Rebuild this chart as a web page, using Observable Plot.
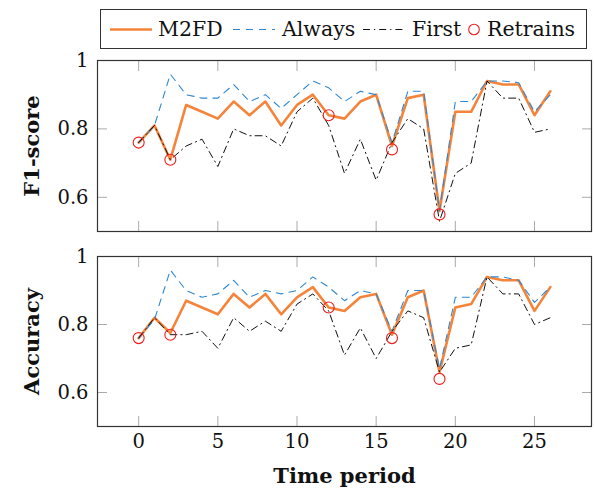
<!DOCTYPE html>
<html>
<head>
<meta charset="utf-8">
<script src="https://cdn.jsdelivr.net/npm/d3@7"></script>
<script src="https://cdn.jsdelivr.net/npm/@observablehq/plot@0.6"></script>
<style>
  html, body { margin: 0; padding: 0; background: white; }
  #wrap { position: relative; width: 594px; height: 491px; overflow: hidden; background: white; }
  #wrap svg.plotsvg { position: absolute; left: 0; }
  #legend { position: absolute; left: 100px; top: 9px; width: 487px; height: 40px; border: 1.2px solid #333; box-sizing: border-box; background: white;
    font-family: "DejaVu Serif"; font-size: 20.5px; color: #111; }
  #legend .item { position: absolute; top: 0; height: 38px; line-height: 38px; white-space: nowrap; }
  #legend svg { position: absolute; }
</style>
</head>
<body>
<div id="wrap"></div>
<script>
// ---- data ----
const periods = [0,1,2,3,4,5,6,7,8,9,10,11,12,13,14,15,16,17,18,19,20,21,22,23,24,25,26];

const f1M2FD   = [0.76,0.81,0.71,0.87,0.85,0.83,0.88,0.84,0.88,0.81,0.87,0.90,0.84,0.83,0.88,0.90,0.75,0.89,0.90,0.56,0.85,0.85,0.94,0.93,0.93,0.84,0.91];
const f1Always = [0.76,0.81,0.96,0.90,0.89,0.89,0.93,0.88,0.90,0.86,0.90,0.94,0.92,0.88,0.91,0.90,0.76,0.91,0.91,0.56,0.88,0.88,0.94,0.94,0.935,0.85,0.90];
const f1First  = [0.76,0.81,0.71,0.75,0.77,0.69,0.80,0.78,0.78,0.75,0.85,0.89,0.81,0.67,0.77,0.65,0.76,0.83,0.80,0.53,0.67,0.70,0.94,0.89,0.89,0.79,0.80];

const accM2FD   = [0.76,0.82,0.775,0.87,0.85,0.83,0.89,0.85,0.89,0.83,0.88,0.91,0.85,0.84,0.88,0.89,0.77,0.88,0.90,0.66,0.85,0.86,0.94,0.93,0.93,0.84,0.91];
const accAlways = [0.76,0.815,0.96,0.90,0.88,0.89,0.93,0.88,0.90,0.89,0.90,0.94,0.91,0.87,0.90,0.89,0.78,0.90,0.90,0.67,0.88,0.88,0.94,0.94,0.93,0.865,0.91];
const accFirst  = [0.76,0.82,0.77,0.77,0.78,0.73,0.82,0.78,0.81,0.78,0.86,0.89,0.84,0.71,0.79,0.70,0.78,0.84,0.82,0.66,0.73,0.74,0.94,0.89,0.89,0.80,0.82];

const retrainPeriods = [0,2,12,16,19];
const retrainF1  = [0.76,0.71,0.84,0.74,0.55];
const retrainAcc = [0.76,0.77,0.85,0.76,0.64];

const xTicks = [0,5,10,15,20,25];
const yTicks = [0.6,0.8,1.0];
const seriesNames = ["M2FD","Always","First","Retrains"];
const yLabels = ["F1-score","Accuracy"];
const xLabel = "Time period";

// ---- styles ----
const C_ORANGE = "#f5843b", C_BLUE = "#2f87d1", C_BLACK = "#111", C_RED = "#ee1c1c";
const DASH_BLUE = "7,6", DASH_BLACK = "7,4,1.2,4";
const tickFont = "'DejaVu Serif'";
const labelFont = "'DejaVu Serif'";

function panel(m2fd, always, first, retrainVals, yLabel, opts) {
  const toRows = arr => periods.map((p, i) => ({x: p, y: arr[i]}));
  const rRows = retrainPeriods.map((p, i) => ({x: p, y: retrainVals[i]}));
  const marks = [
    Plot.lineY(toRows(m2fd), {x: "x", y: "y", stroke: C_ORANGE, strokeWidth: 2.6}),
    Plot.lineY(toRows(always), {x: "x", y: "y", stroke: C_BLUE, strokeWidth: 1.1, strokeDasharray: DASH_BLUE}),
    Plot.lineY(toRows(first), {x: "x", y: "y", stroke: C_BLACK, strokeWidth: 1, strokeDasharray: DASH_BLACK}),
    Plot.dot(rRows, {x: "x", y: "y", r: 5.5, stroke: C_RED, strokeWidth: 1.1, fill: "none"}),
    // inward ticks on all sides
    Plot.axisX(xTicks, {anchor: "bottom", tickSize: -10, text: null, label: null, stroke: "#aaa"}),
    Plot.axisX(xTicks, {anchor: "top", tickSize: -10, text: null, label: null, stroke: "#aaa"}),
    Plot.axisY(yTicks, {anchor: "left", tickSize: -10, text: null, label: null, stroke: "#aaa"}),
    Plot.axisY(yTicks, {anchor: "right", tickSize: -10, text: null, label: null, stroke: "#aaa"}),
    Plot.axisY(yTicks, {anchor: "left", tickSize: 0, tickPadding: 9, label: null,
      tickFormat: d => d === 1 ? "1" : d.toFixed(1), fontSize: 19.5, fontFamily: tickFont, fill: "#111"}),
    Plot.frame({stroke: "#333", strokeWidth: 1.2}),
    Plot.text([yLabel], {frameAnchor: "left", dx: -65, rotate: -90, text: d => d,
      fontSize: 21, fontWeight: "bold", fontFamily: labelFont, fill: "#111", textAnchor: "middle", lineAnchor: "middle"})
  ];
  if (opts.showX) {
    marks.push(Plot.axisX(xTicks, {anchor: "bottom", tickSize: 0, tickPadding: 8, label: null,
      tickFormat: d => String(d), fontSize: 19.5, fontFamily: tickFont, fill: "#111"}));
    marks.push(Plot.text([xLabel], {frameAnchor: "bottom", dy: 50, text: d => d,
      fontSize: 21, fontWeight: "bold", fontFamily: labelFont, fill: "#111", textAnchor: "middle", lineAnchor: "middle"}));
  }
  const svg = Plot.plot({
    width: 594, height: opts.height,
    marginLeft: 97, marginRight: 3, marginTop: opts.mt, marginBottom: opts.mb,
    x: {domain: [-2.6, 28.6], axis: null},
    y: {domain: [0.5, 1.0], axis: null},
    style: {background: "transparent", overflow: "visible"},
    marks
  });
  svg.classList.add("plotsvg");
  svg.style.top = opts.top + "px";
  return svg;
}

const wrap = document.getElementById("wrap");
wrap.appendChild(panel(f1M2FD, f1Always, f1First, retrainF1, yLabels[0], {top: 0, height: 240, mt: 60, mb: 9, showX: false}));
wrap.appendChild(panel(accM2FD, accAlways, accFirst, retrainAcc, yLabels[1], {top: 240, height: 251, mt: 16, mb: 65, showX: true}));

// ---- legend ----
const legend = document.createElement("div");
legend.id = "legend";
const swatches = [
  {name: seriesNames[0], kind: "line", color: C_ORANGE, w: 2.6, dash: null, sx: 9, tx: 57},
  {name: seriesNames[1], kind: "line", color: C_BLUE, w: 1.1, dash: DASH_BLUE, sx: 132, tx: 181},
  {name: seriesNames[2], kind: "line", color: C_BLACK, w: 1, dash: DASH_BLACK, sx: 262, tx: 311},
  {name: seriesNames[3], kind: "dot", color: C_RED, sx: 366, tx: 386}
];
for (const s of swatches) {
  const ns = "http://www.w3.org/2000/svg";
  const sv = document.createElementNS(ns, "svg");
  if (s.kind === "line") {
    sv.setAttribute("width", 42); sv.setAttribute("height", 38);
    sv.style.left = s.sx + "px"; sv.style.top = "0px";
    const l = document.createElementNS(ns, "line");
    l.setAttribute("x1", 0); l.setAttribute("x2", 42); l.setAttribute("y1", 19.5); l.setAttribute("y2", 19.5);
    l.setAttribute("stroke", s.color); l.setAttribute("stroke-width", s.w);
    if (s.dash) l.setAttribute("stroke-dasharray", s.dash);
    sv.appendChild(l);
  } else {
    sv.setAttribute("width", 16); sv.setAttribute("height", 38);
    sv.style.left = s.sx + "px"; sv.style.top = "0px";
    const c = document.createElementNS(ns, "circle");
    c.setAttribute("cx", 7); c.setAttribute("cy", 19.5); c.setAttribute("r", 5.3);
    c.setAttribute("fill", "none"); c.setAttribute("stroke", s.color); c.setAttribute("stroke-width", 1.1);
    sv.appendChild(c);
  }
  legend.appendChild(sv);
  const t = document.createElement("div");
  t.className = "item";
  t.style.left = s.tx + "px";
  t.textContent = s.name;
  legend.appendChild(t);
}
wrap.appendChild(legend);
</script>
</body>
</html>
